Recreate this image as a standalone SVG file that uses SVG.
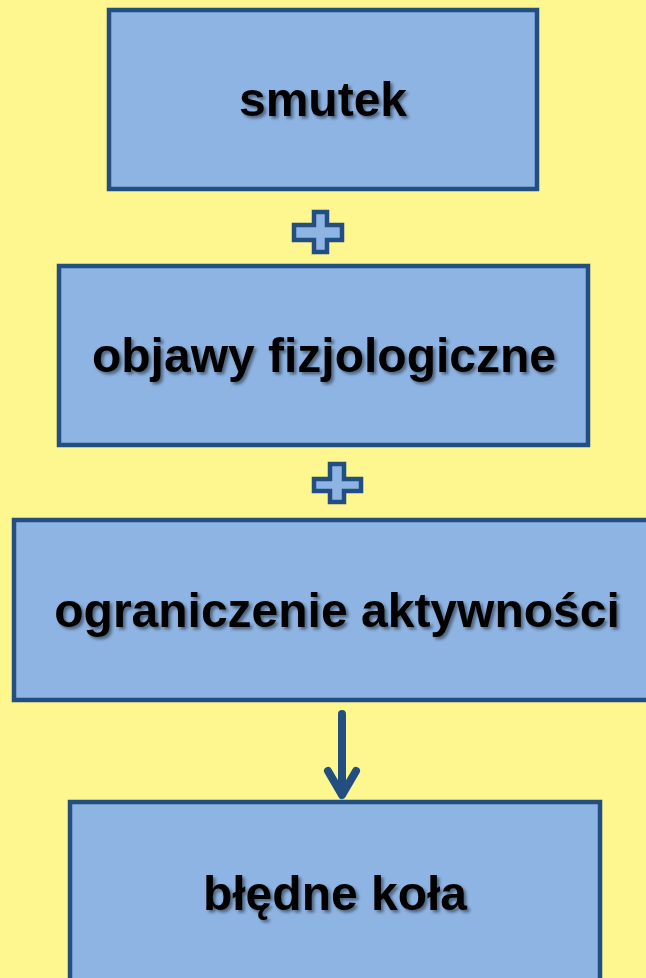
<svg xmlns="http://www.w3.org/2000/svg" width="646" height="978" viewBox="0 0 646 978">
<defs>
<filter id="sh" x="-10%" y="-30%" width="120%" height="160%">
<feDropShadow dx="2.5" dy="2.5" stdDeviation="1.5" flood-color="#000" flood-opacity="0.45"/>
</filter>
<style>
.box{fill:#8EB4E3;stroke:#234E82;stroke-width:4.5}
.lbl{font-family:"Liberation Sans",Arial,sans-serif;font-weight:bold;font-size:48px;fill:#000;text-anchor:middle;filter:url(#sh)}
.plus{fill:#8EB4E3;stroke:#234E82;stroke-width:4.5;stroke-linejoin:miter}
.conn{stroke:#234E82;stroke-width:8;fill:none;stroke-linecap:round;stroke-linejoin:round}
</style>
</defs>
<rect x="0" y="0" width="646" height="978" fill="#FEF68E"/>
<g id="n1"><rect class="box" x="109" y="10" width="428" height="179"/><text class="lbl" x="323" y="116">smutek</text></g>
<g id="n2"><rect class="box" x="59" y="266" width="529" height="179"/><text class="lbl" x="324" y="372">objawy fizjologiczne</text></g>
<g id="n3"><rect class="box" x="14" y="520" width="660" height="180"/><text class="lbl" x="337" y="627">ograniczenie aktywności</text></g>
<g id="n4"><rect class="box" x="70" y="802" width="530" height="200"/><text class="lbl" x="335" y="910">błędne koła</text></g>
<g id="connectors">
<path class="plus" d="M314 212H327V225H342V240H327V252H314V240H294V225H314Z"/>
<path class="plus" d="M330 464H344V479H361V491H344V502H330V491H314V479H330Z"/>
<line class="conn" x1="342" y1="714" x2="342" y2="794" stroke-linecap="butt"/>
<polyline class="conn" points="328,771 342,795 356,771"/>
</g>
</svg>
